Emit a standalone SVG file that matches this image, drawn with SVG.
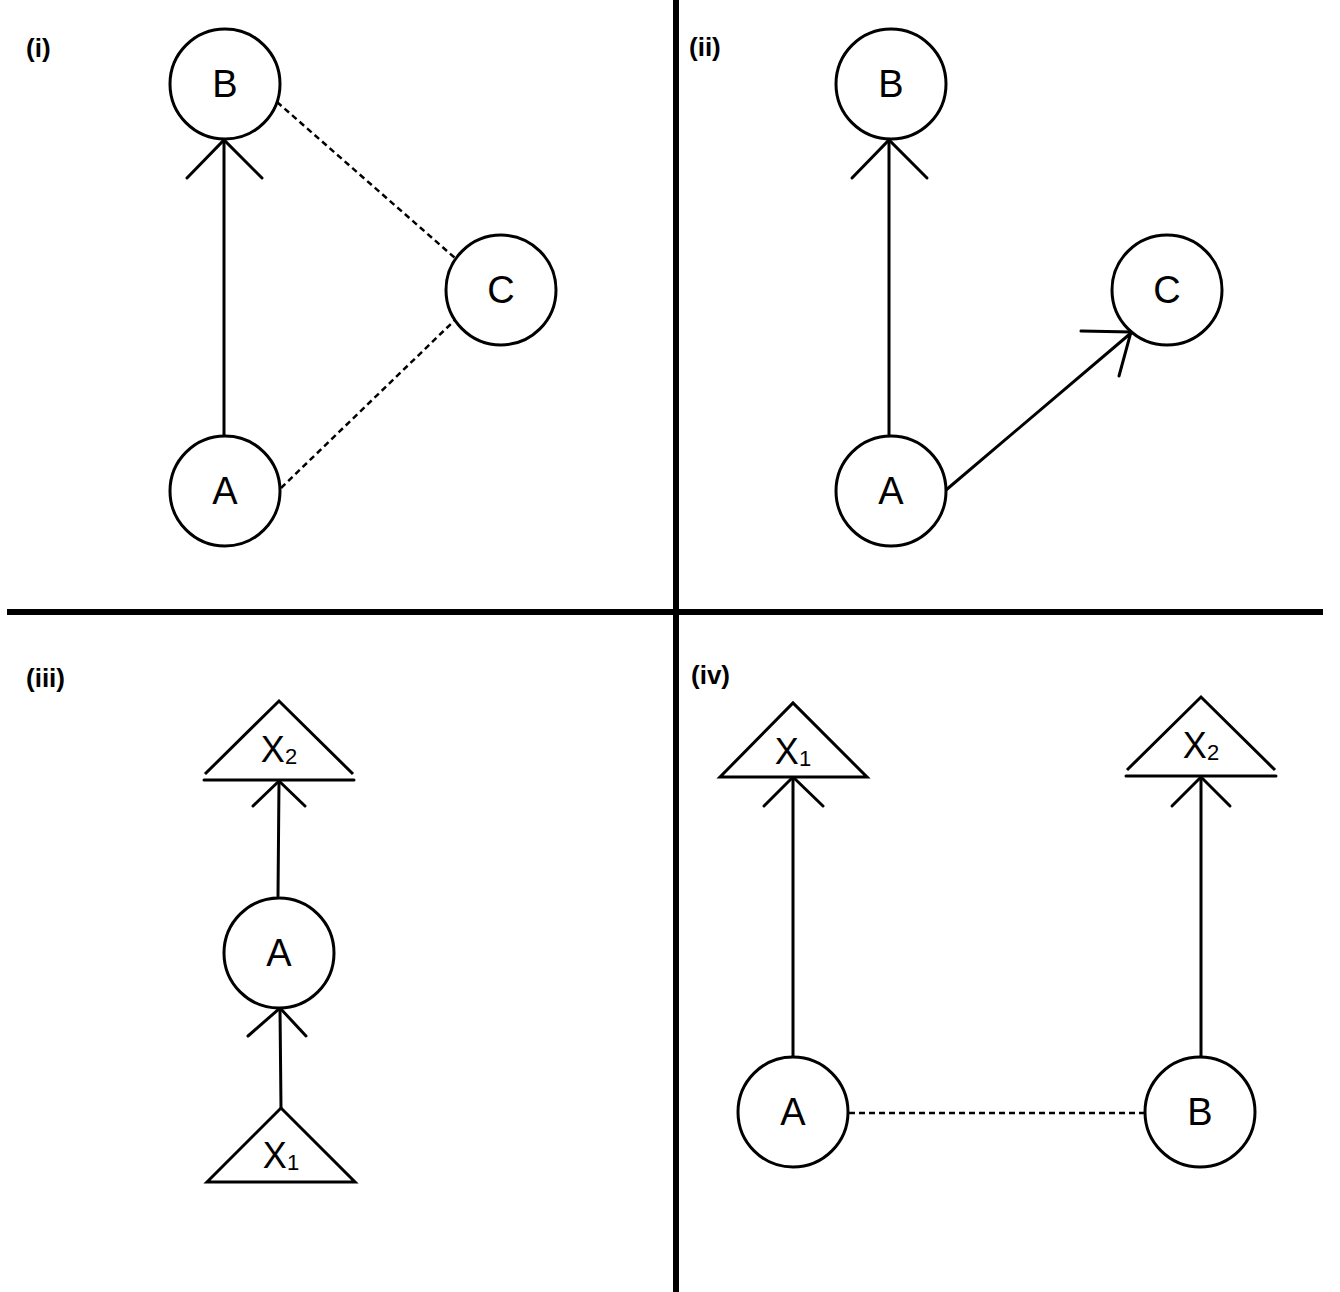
<svg xmlns="http://www.w3.org/2000/svg" width="1340" height="1292" viewBox="0 0 1340 1292">
<style>
.node{fill:#fff;stroke:#000;stroke-width:3}
.tri{fill:#fff;stroke:#000;stroke-width:3;stroke-linejoin:miter}
.ln{fill:none;stroke:#000;stroke-width:3;stroke-linecap:round}
.dash{fill:none;stroke:#000;stroke-width:2.5;stroke-dasharray:6 4}
.div{stroke:#000;stroke-width:6}
.lbl{font-family:"Liberation Sans",Arial,sans-serif;font-size:38px;text-anchor:middle;dominant-baseline:central}
.tl{font-family:"Liberation Sans",Arial,sans-serif;font-size:36px;text-anchor:middle}
.sub{font-size:22px}
.cap{font-family:"Liberation Sans",Arial,sans-serif;font-size:26px;font-weight:bold}
</style>
<rect width="1340" height="1292" fill="#fff"/>
<g id="dividers">
<line class="div" x1="676" y1="0" x2="676" y2="1292"/>
<line class="div" x1="7" y1="612" x2="1323" y2="612"/>
</g>
<g id="captions">
<text class="cap" x="26" y="57">(i)</text>
<text class="cap" x="689" y="56">(ii)</text>
<text class="cap" x="26" y="687">(iii)</text>
<text class="cap" x="691" y="684">(iv)</text>
</g>
<g id="connectors">
<line class="ln" x1="224" y1="436" x2="224" y2="140"/>
<path class="ln" d="M187,178 L224,140 L262,178"/>
<line class="dash" x1="277" y1="102" x2="455" y2="258"/>
<line class="dash" x1="281" y1="488" x2="455" y2="320"/>
<line class="ln" x1="889" y1="436" x2="889" y2="140"/>
<path class="ln" d="M852,178 L889,140 L927,178"/>
<line class="ln" x1="946" y1="490" x2="1131" y2="333"/>
<path class="ln" d="M1081,331 L1131,332 L1119,376"/>
<line class="ln" x1="278" y1="896" x2="279" y2="781"/>
<path class="ln" d="M253,806 L279,781 L305,806"/>
<line class="ln" x1="281" y1="1108" x2="280" y2="1008"/>
<path class="ln" d="M248,1036 L280,1008 L306,1036"/>
<line class="ln" x1="793" y1="1057" x2="793" y2="777"/>
<path class="ln" d="M764,806 L793,777 L823,806"/>
<line class="ln" x1="1201" y1="1057" x2="1201" y2="777"/>
<path class="ln" d="M1172,806 L1201,777 L1230,806"/>
<line class="dash" x1="849" y1="1113" x2="1144" y2="1113"/>
</g>
<g id="i-B"><circle class="node" cx="225" cy="84" r="55"/><text class="lbl" x="225" y="84">B</text></g>
<g id="i-C"><circle class="node" cx="501" cy="290" r="55"/><text class="lbl" x="501" y="290">C</text></g>
<g id="i-A"><circle class="node" cx="225" cy="491" r="55"/><text class="lbl" x="225" y="491">A</text></g>
<g id="ii-B"><circle class="node" cx="891" cy="84" r="55"/><text class="lbl" x="891" y="84">B</text></g>
<g id="ii-C"><circle class="node" cx="1167" cy="290" r="55"/><text class="lbl" x="1167" y="290">C</text></g>
<g id="ii-A"><circle class="node" cx="891" cy="491" r="55"/><text class="lbl" x="891" y="491">A</text></g>
<g id="iii-X2"><path class="tri" d="M205,774 L279,701 L353,774"/><line class="ln" x1="204" y1="780" x2="354" y2="780"/><text class="tl" x="279" y="762">X<tspan class="sub" dy="2">2</tspan></text></g>
<g id="iii-A"><circle class="node" cx="279" cy="953" r="55"/><text class="lbl" x="279" y="953">A</text></g>
<g id="iii-X1"><path class="tri" d="M207,1182 L281,1108 L355,1182 Z"/><text class="tl" x="281" y="1168">X<tspan class="sub" dy="2">1</tspan></text></g>
<g id="iv-X1"><path class="tri" d="M720,777 L793,703 L867,777 Z"/><text class="tl" x="793" y="764">X<tspan class="sub" dy="2">1</tspan></text></g>
<g id="iv-X2"><path class="tri" d="M1127,770 L1201,697 L1275,770"/><line class="ln" x1="1126" y1="776" x2="1276" y2="776"/><text class="tl" x="1201" y="758">X<tspan class="sub" dy="2">2</tspan></text></g>
<g id="iv-A"><circle class="node" cx="793" cy="1112" r="55"/><text class="lbl" x="793" y="1112">A</text></g>
<g id="iv-B"><circle class="node" cx="1200" cy="1112" r="55"/><text class="lbl" x="1200" y="1112">B</text></g>
</svg>
